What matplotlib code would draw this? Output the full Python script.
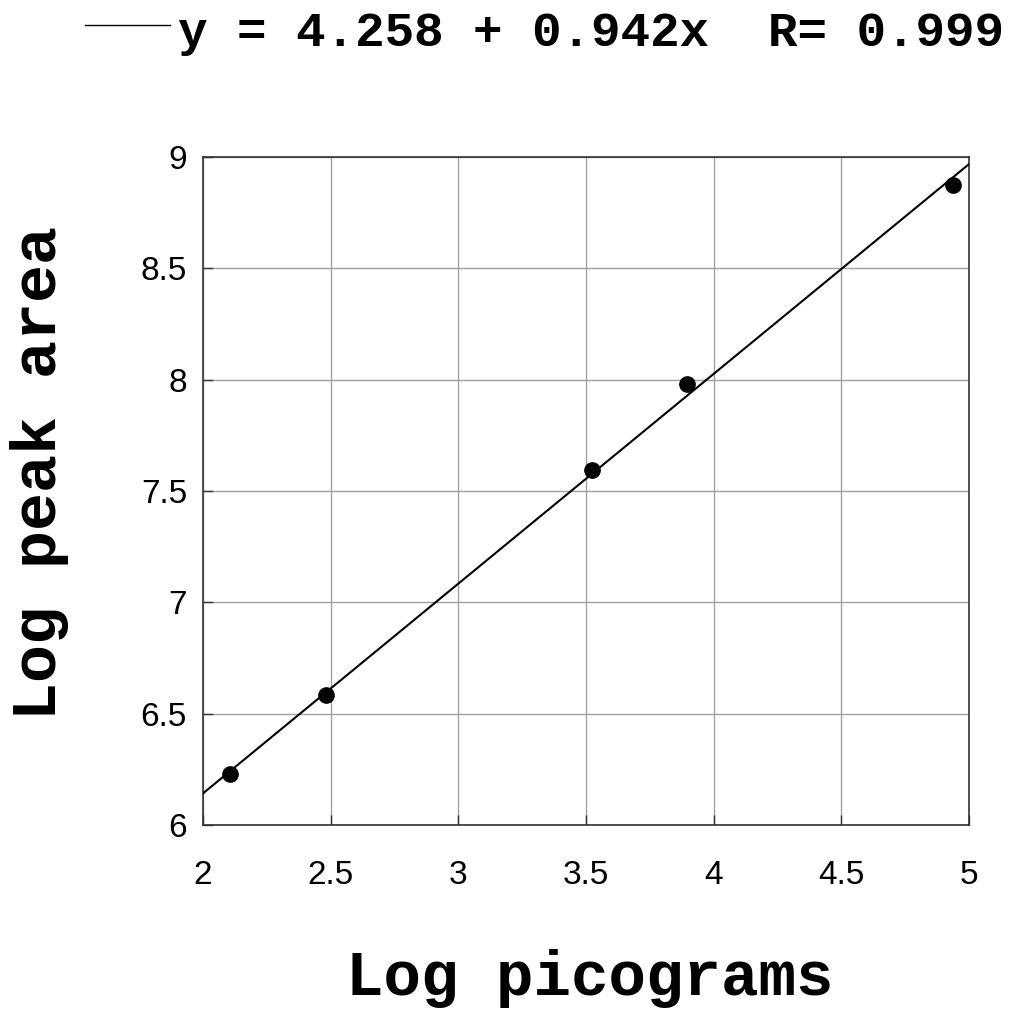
import matplotlib
matplotlib.use("Agg")
import matplotlib.pyplot as plt
import numpy as np

# data
log_pg = [2.107, 2.481, 3.524, 3.897, 4.936]
log_area = [6.229, 6.584, 7.595, 7.980, 8.875]
intercept, slope, r_val = 4.258, 0.942, 0.999
xticks = [2, 2.5, 3, 3.5, 4, 4.5, 5]
yticks = [6, 6.5, 7, 7.5, 8, 8.5, 9]

W, H = 1012, 1014
fig = plt.figure(figsize=(W / 100, H / 100), dpi=100)
ax = fig.add_axes([203 / W, 1 - 825 / H, (969 - 203) / W, (825 - 157) / H])

ax.set_xlim(2, 5)
ax.set_ylim(6, 9)
ax.set_xticks(xticks)
ax.set_yticks(yticks)
ax.set_xticklabels([f"{t:g}" for t in xticks], fontfamily="Liberation Sans", fontsize=24)
ax.set_yticklabels([f"{t:g}" for t in yticks], fontfamily="Liberation Sans", fontsize=24)
ax.tick_params(direction="in", length=7, width=1, color="#333333")
ax.tick_params(axis="x", pad=25)
ax.tick_params(axis="y", pad=11.5)
ax.grid(True, color="#a0a0a0", lw=1)
ax.set_axisbelow(True)
for s in ax.spines.values():
    s.set_color("#333333")
    s.set_linewidth(1.2)

# fit line
xl = np.array([2, 5])
ax.plot(xl, intercept + slope * xl, color="black", lw=1.5, zorder=3)
ax.plot(log_pg, log_area, "o", color="black", markersize=11, zorder=4)

ax.set_xlabel("Log picograms", fontfamily="Liberation Mono", fontweight="bold",
              fontsize=45, va="center")
ax.xaxis.set_label_coords((590 - 203) / 766, (825 - 979) / 668)
ax.set_ylabel("Log peak area", fontfamily="Liberation Mono", fontweight="bold",
              fontsize=45.5, va="center")
ax.yaxis.set_label_coords((40 - 203) / 766, (825 - 472.5) / 668)

# legend-style title
fig.add_artist(plt.Line2D([85 / W, 170 / W], [1 - 25 / H, 1 - 25 / H],
                          color="black", lw=1))
fig.text(178 / W, 1 - 46 / H, f"y = {intercept:.3f} + {slope:.3f}x  R= {r_val:.3f}",
         fontfamily="Liberation Mono", fontweight="bold", fontsize=35.5,
         ha="left", va="baseline")

fig.savefig("out.png", dpi=100, facecolor="white")
